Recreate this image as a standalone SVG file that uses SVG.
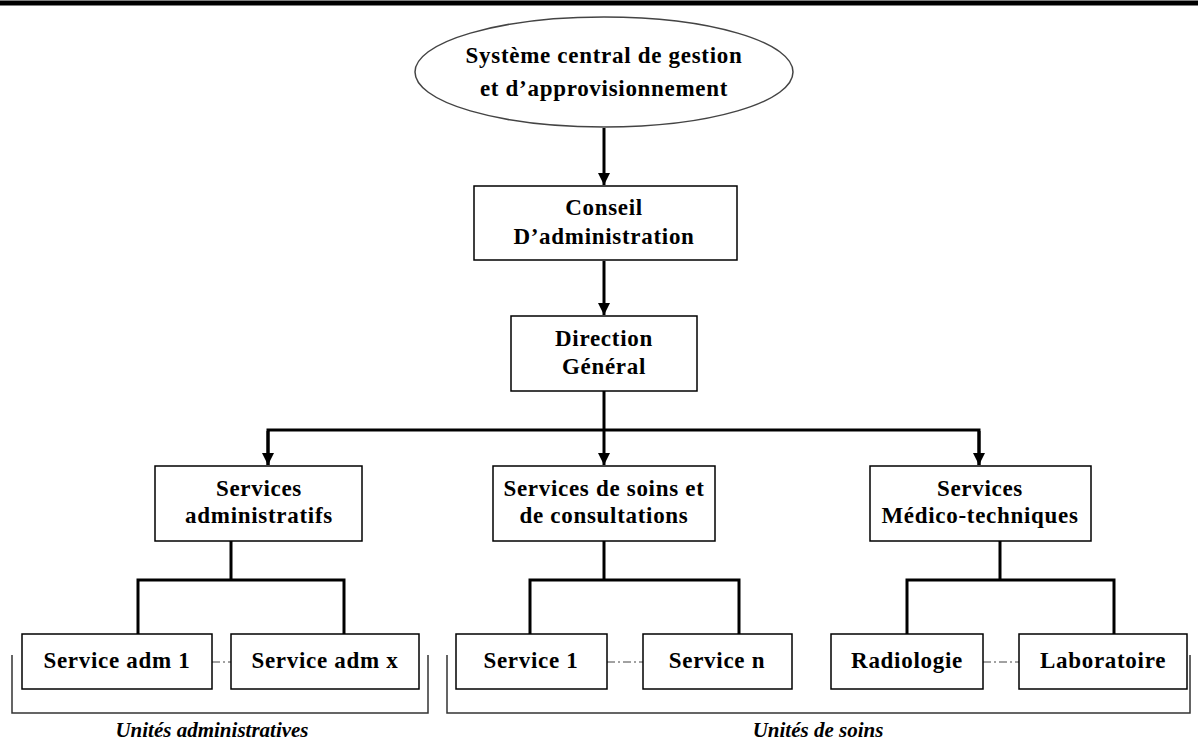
<svg xmlns="http://www.w3.org/2000/svg" width="1198" height="744" viewBox="0 0 1198 744">
<style>
text{font-family:"Liberation Serif","Times New Roman",serif;font-weight:bold;font-size:23px;letter-spacing:0.7px;fill:#000;text-anchor:middle}
.box{fill:#fff;stroke:#000;stroke-width:1.5}
.oval{fill:#fff;stroke:#444;stroke-width:1.5}
.c{fill:none;stroke:#000;stroke-width:3}
.dd{fill:none;stroke:#444;stroke-width:1;stroke-dasharray:8 3 2 3}
.br{fill:none;stroke:#333;stroke-width:1.5}
.lab{font-style:italic;font-weight:bold;font-size:21px;letter-spacing:0}
</style>
<defs>
<marker id="ah" viewBox="0 0 10 10" refX="10" refY="5" markerWidth="4" markerHeight="4.5" orient="auto" markerUnits="strokeWidth">
<path d="M0,0 L10,5 L0,10 Z" fill="#000"/>
</marker>
</defs>
<rect x="0" y="0" width="1198" height="744" fill="#fff"/>
<line x1="0" y1="3" x2="1198" y2="3" stroke="#000" stroke-width="5"/>

<g id="connectors">
<line class="c" x1="604" y1="128" x2="604" y2="185" marker-end="url(#ah)"/>
<line class="c" x1="604" y1="261" x2="604" y2="315" marker-end="url(#ah)"/>
<line class="c" x1="604" y1="391" x2="604" y2="465" marker-end="url(#ah)"/>
<polyline class="c" points="268,465 268,430 979,430 979,465"/>
<line class="c" x1="268" y1="431" x2="268" y2="465" marker-end="url(#ah)"/>
<line class="c" x1="979" y1="431" x2="979" y2="465" marker-end="url(#ah)"/>
<polyline class="c" points="138,634 138,580 344,580 344,634"/>
<line class="c" x1="231" y1="541" x2="231" y2="580"/>
<polyline class="c" points="530,634 530,580 739,580 739,634"/>
<line class="c" x1="604" y1="541" x2="604" y2="580"/>
<polyline class="c" points="907,634 907,580 1114,580 1114,634"/>
<line class="c" x1="1000" y1="541" x2="1000" y2="580"/>
<line class="dd" x1="212" y1="662" x2="231" y2="662"/>
<line class="dd" x1="607" y1="662" x2="643" y2="662"/>
<line class="dd" x1="983" y1="662" x2="1019" y2="662"/>
<polyline class="br" points="12,655 12,713 428,713 428,655"/>
<polyline class="br" points="447,655 447,713 1190,713 1190,655"/>
</g>

<g id="n-systeme">
<ellipse class="oval" cx="604" cy="72" rx="189" ry="55"/>
<text x="604" y="63">Système central de gestion</text>
<text x="604" y="96">et d’approvisionnement</text>
</g>
<g id="n-conseil">
<rect class="box" x="474" y="186" width="263" height="74"/>
<text x="604" y="215">Conseil</text>
<text x="604" y="244">D’administration</text>
</g>
<g id="n-direction">
<rect class="box" x="511" y="316" width="186" height="75"/>
<text x="604" y="346">Direction</text>
<text x="604" y="374">Général</text>
</g>
<g id="n-admin">
<rect class="box" x="155" y="466" width="207" height="75"/>
<text x="259" y="496">Services</text>
<text x="259" y="523">administratifs</text>
</g>
<g id="n-soins">
<rect class="box" x="493" y="466" width="222" height="75"/>
<text x="604" y="496">Services de soins et</text>
<text x="604" y="523">de consultations</text>
</g>
<g id="n-medico">
<rect class="box" x="870" y="466" width="221" height="75"/>
<text x="980" y="496">Services</text>
<text x="980" y="523">Médico-techniques</text>
</g>
<g id="n-adm1">
<rect class="box" x="22" y="634" width="190" height="55"/>
<text x="117" y="668">Service adm 1</text>
</g>
<g id="n-admx">
<rect class="box" x="231" y="634" width="188" height="55"/>
<text x="325" y="668">Service adm x</text>
</g>
<g id="n-s1">
<rect class="box" x="456" y="634" width="151" height="55"/>
<text x="531" y="668">Service 1</text>
</g>
<g id="n-sn">
<rect class="box" x="643" y="634" width="149" height="55"/>
<text x="717" y="668">Service n</text>
</g>
<g id="n-radio">
<rect class="box" x="831" y="634" width="152" height="55"/>
<text x="907" y="668">Radiologie</text>
</g>
<g id="n-labo">
<rect class="box" x="1019" y="634" width="168" height="55"/>
<text x="1103" y="668">Laboratoire</text>
</g>
<text class="lab" x="212" y="737">Unités administratives</text>
<text class="lab" x="818" y="737">Unités de soins</text>
</svg>
